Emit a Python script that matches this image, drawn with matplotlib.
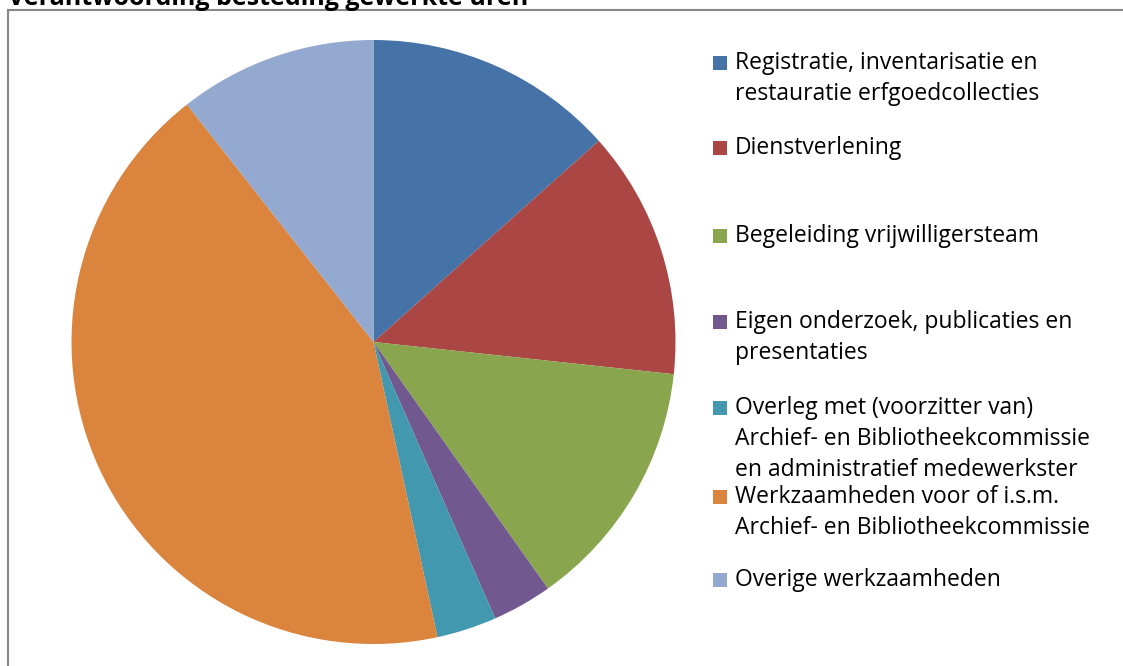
import matplotlib.pyplot as plt
from matplotlib.patches import Rectangle

W, H = 1123, 666

title = "Verantwoording besteding gewerkte uren"
labels = [
    "Registratie, inventarisatie en\nrestauratie erfgoedcollecties",
    "Dienstverlening",
    "Begeleiding vrijwilligersteam",
    "Eigen onderzoek, publicaties en\npresentaties",
    "Overleg met (voorzitter van)\nArchief- en Bibliotheekcommissie\nen administratief medewerkster",
    "Werkzaamheden voor of i.s.m.\nArchief- en Bibliotheekcommissie",
    "Overige werkzaamheden",
]
shares = [13.4, 13.3, 13.5, 3.2, 3.2, 42.8, 10.6]
colors = ["#4572A7", "#AA4643", "#89A54E", "#71588F", "#4198AF", "#DB843D", "#93A9CF"]

# centre of each legend entry's first line (pixels from top)
legend_y = [63, 148, 236, 322, 408, 497, 580]

plt.rcParams['font.family'] = ['Open Sans', 'DejaVu Sans']

fig = plt.figure(figsize=(W / 100, H / 100), dpi=100)

# chart border
fig.patches.append(Rectangle((7.5 / W, -0.1), 1.2, 1.1 - 10.5 / H, transform=fig.transFigure,
                             fill=False, edgecolor="#868686", linewidth=1.5))

fig.text(8 / W, 1 - 5 / H, title, fontsize=18, fontweight="bold", va="baseline", ha="left")

cx, cy, r = 373.5, 342, 302
ax = fig.add_axes([(cx - r) / W, (H - cy - r) / H, 2 * r / W, 2 * r / H])
ax.pie(shares, colors=colors, startangle=90, counterclock=False,
       wedgeprops=dict(linewidth=0))
ax.set_xlim(-1, 1)
ax.set_ylim(-1, 1)
ax.set_aspect("equal")
ax.axis("off")

line_h = 31
for lab, col, y in zip(labels, colors, legend_y):
    fig.patches.append(Rectangle((713 / W, 1 - (y + 7) / H), 14 / W, 14 / H,
                                 transform=fig.transFigure, facecolor=col, edgecolor="none"))
    for i, line in enumerate(lab.split("\n")):
        fig.text(735 / W, 1 - (y + i * line_h) / H, line, fontsize=16.5,
                 va="center", ha="left", color="black")

plt.savefig("out.png", dpi=100)
